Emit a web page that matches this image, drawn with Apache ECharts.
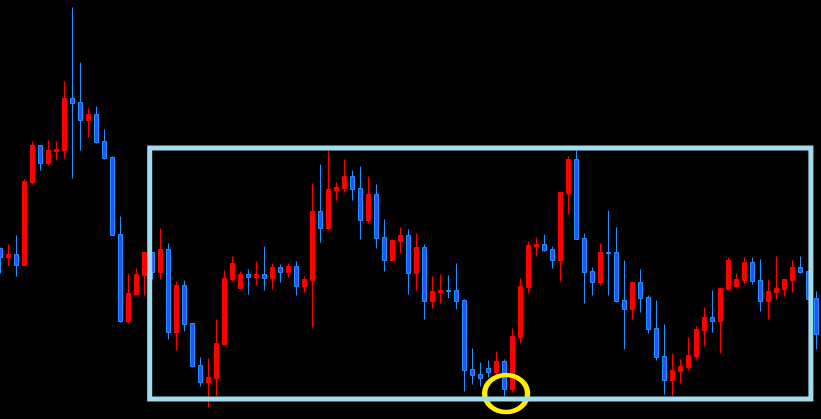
<!DOCTYPE html>
<html>
<head>
<meta charset="utf-8">
<script src="https://cdn.jsdelivr.net/npm/echarts@6/dist/echarts.min.js"></script>
<style>html,body{margin:0;padding:0;background:#000;}#c{width:821px;height:419px;}</style>
</head>
<body>
<div id="c"></div>
<script>
// Chart units: vertical value (larger = lower on screen, axis inverted)
const openV  = [248,257,254,265,182,145,163,151,150,98,102,120,114,141,157,234,321,294,275,252,272,249,332,285,323,365,382,378,344,279,288,274,277,274,278,267,272,266,286,280,211,228,190,188,176,188,220,194,237,260,241,235,273,247,301,292,290,290,300,369,374,368,372,361,389,337,287,246,244,249,260,193,159,238,271,282,252,252,300,309,282,297,328,356,380,371,367,356,330,317,321,289,286,280,262,280,301,292,289,280,267,271,298];
const closeV = [257,254,265,181,145,163,150,149,98,103,120,114,142,158,235,321,293,274,252,272,249,332,285,324,366,382,377,343,278,263,274,277,274,278,267,272,266,286,279,211,228,189,187,176,189,220,194,238,260,240,235,273,247,301,291,290,291,301,370,375,378,372,361,389,336,286,245,244,250,260,192,159,239,272,282,252,253,301,309,282,298,329,357,380,370,366,355,329,317,321,288,260,279,262,281,301,291,288,279,267,272,299,334];
// wick top (smallest value) and wick bottom (largest value)
const highV  = [248,244,235,179,141,145,140,141,81,7,62,108,106,129,156,216,273,268,251,252,228,243,281,280,323,357,358,319,270,256,271,269,261,246,263,264,263,261,276,183,164,150,182,159,170,166,176,184,219,239,227,229,233,244,276,274,275,263,299,348,362,360,351,359,328,278,241,237,234,246,192,156,150,233,267,243,210,227,260,281,269,295,300,324,353,359,337,326,307,290,288,257,273,257,257,259,279,256,279,260,256,271,291];
const lowV   = [273,265,276,265,184,170,165,160,158,178,150,137,143,159,235,322,323,295,295,279,279,339,350,331,367,386,407,396,345,281,289,294,285,290,289,282,277,295,292,327,242,230,200,192,200,239,223,248,271,260,253,294,290,319,308,303,298,309,391,384,386,377,376,396,392,343,293,256,251,268,281,214,239,303,295,285,295,302,349,319,312,333,360,394,396,383,370,359,346,332,353,290,288,284,284,311,319,299,296,292,273,299,349];
// Annotations (in chart units): highlighted range box and marked candle
const boxRange = {fromIndex: 18.65, toIndex: 101.3, top: 147.5, bottom: 398.5};
const markedPoint = [63.2, 393];

// ECharts order: [x, open, close, lowest(numeric min), highest(numeric max)]
const candles = openV.map((o, i) => [i, o, closeV[i], highV[i], lowV[i]]);

const chart = echarts.init(document.getElementById('c'), null, {renderer: 'canvas'});
chart.setOption({
  backgroundColor: '#000000',
  animation: false,
  grid: {left: 0, right: 0, top: 0, bottom: 0},
  xAxis: {type: 'value', min: -0.0625, max: 102.5625, show: false, splitLine: {show: false}},
  yAxis: {type: 'value', min: -0.5, max: 418.5, inverse: true, show: false, splitLine: {show: false}},
  series: [
    {
      type: 'candlestick',
      z: 2,
      barWidth: 4,
      encode: {x: 0, y: [1, 2, 3, 4]},
      data: candles,
      itemStyle: {
        // axis inverted: numeric rise = visual fall (blue), numeric fall = visual rise (red)
        color: '#2d50ff', borderColor: '#1e90ff',
        color0: '#ff0000', borderColor0: '#ff0000',
        borderWidth: 1
      }
    },
    {
      type: 'scatter',
      z: 5,
      symbol: 'circle',
      symbolSize: [43, 37],
      data: [markedPoint],
      itemStyle: {color: 'rgba(0,0,0,0)', borderColor: '#ffee00', borderWidth: 5, opacity: 1},
      emphasis: {disabled: true}
    },
    {
      type: 'line',
      z: 10,
      data: [],
      markArea: {
        silent: true,
        z: 10,
        itemStyle: {color: 'rgba(0,0,0,0)', borderColor: '#a0dcec', borderWidth: 5},
        data: [[{coord: [boxRange.fromIndex, boxRange.top]}, {coord: [boxRange.toIndex, boxRange.bottom]}]]
      }
    }
  ]
});
</script>
</body>
</html>
